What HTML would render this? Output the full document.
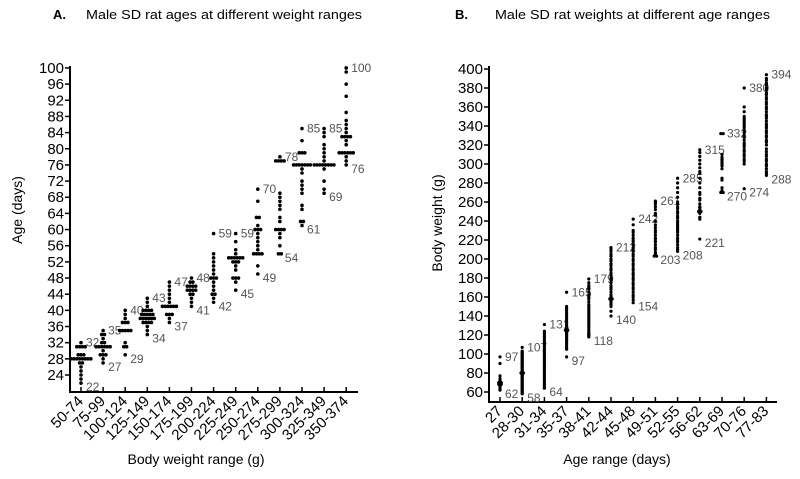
<!DOCTYPE html>
<html><head><meta charset="utf-8"><style>
html,body{margin:0;padding:0;background:#fff;}
svg{display:block;font-family:"Liberation Sans",Arial,sans-serif;}
</style></head><body>
<svg id="chart" width="800" height="479" viewBox="0 0 800 479" xmlns="http://www.w3.org/2000/svg">
<g>
<text x="53" y="19" font-size="13" font-weight="bold">A.</text>
<text x="86" y="19" font-size="13" textLength="276" lengthAdjust="spacingAndGlyphs">Male SD rat ages at different weight ranges</text>
</g>
<g>
<text x="455" y="19" font-size="13" font-weight="bold">B.</text>
<text x="495" y="19" font-size="13" textLength="275" lengthAdjust="spacingAndGlyphs">Male SD rat weights at different age ranges</text>
</g>
<g id="pa"></g>
<g id="pb"></g>
</svg>
<script>
const catsA=["50-74","75-99","100-124","125-149","150-174","175-199","200-224","225-249","250-274","275-299","300-324","325-349","350-374"];
const valsA=[
[22,23,24,25,26,27,27,28,28,28,28,28,28,28,28,29,29,29,31,31,31,31,32],
[27,28,29,29,29,30,31,31,31,31,31,31,32,32,33,34,34,35],
[29,31,31,32,35,35,35,35,35,37,37,37,38,39,40],
[34,35,36,37,37,37,37,38,38,38,38,38,38,39,39,39,39,39,40,40,40,40,41,42,43],
[37,38,39,39,39,41,41,41,41,41,41,42,43,44,45,46,47],
[41,42,43,44,44,45,45,45,45,46,46,46,46,47,47,48],
[42,43,44,44,45,46,47,48,48,48,49,50,51,52,53,54,59],
[45,47,48,48,48,50,51,52,52,52,53,53,53,53,53,53,54,55,57,59],
[49,51,54,54,54,54,55,56,57,58,59,60,60,60,61,63,63,67,70],
[54,54,56,58,59,60,60,60,60,62,63,65,66,67,68,69,77,77,77,77,78],
[61,62,62,65,66,69,70,71,72,74,75,76,76,76,76,76,76,76,79,79,79,82,85],
[69,70,72,75,76,76,76,76,76,76,76,76,77,78,79,80,81,83,84,85],
[76,77,78,79,79,79,79,79,79,81,82,83,83,83,83,84,85,86,87,89,93,96,99,100]];
const ticksA=[24,28,32,36,40,44,48,52,56,60,64,68,72,76,80,84,88,92,96,100];
const catsB=["27","28-30","31-34","35-37","38-41","42-44","45-48","49-51","52-55","56-62","63-69","70-76","77-83"];
const valsB=[
[62,63,64,65,66,67,68,68,69,69,70,70,71,72,74,77,90,97],
[58,59,60,61,62,63,64,65,66,67,68,69,70,71,72,73,74,75,76,77,78,79,80,80,81,82,83,84,85,86,87,88,89,90,91,92,93,94,95,96,97,98,99,100,101,102,103,107],
[64,65,66,68,70,72,74,76,78,80,82,84,86,88,90,92,94,96,98,100,102,104,106,108,110,112,114,116,118,120,122,124,131],
[97,105,106,108,110,112,114,115,116,118,119,120,121,122,123,124,125,125,126,127,128,129,130,132,134,136,138,140,142,144,146,148,150,165],
[118,119,120,121,122,124,126,128,130,132,134,136,138,140,142,144,146,148,150,152,155,158,160,162,165,168,170,172,175,179],
[140,145,150,152,154,156,158,158,160,162,165,168,170,172,175,178,180,183,185,188,190,193,195,198,200,203,205,208,210,212],
[154,157,160,162,165,168,170,173,175,178,180,183,185,188,190,193,195,198,200,203,205,208,210,212,215,218,220,222,225,228,230,236,242],
[203,203,204,205,207,210,212,215,218,220,222,225,228,230,233,236,240,246,248,252,255,258,260,261],
[208,210,212,215,218,220,222,225,228,230,232,234,236,238,240,243,245,248,250,253,255,258,260,265,270,275,280,285],
[221,242,244,248,250,250,252,254,255,258,262,264,268,270,275,280,285,290,292,296,300,304,308,312,315],
[270,270,271,272,275,283,285,295,298,300,302,304,305,307,310,332,332],
[274,300,303,305,308,310,313,315,318,320,322,325,328,330,333,335,338,340,342,344,346,348,350,355,360,380],
[288,290,292,295,298,300,303,305,308,310,313,316,320,323,325,328,330,333,335,338,340,342,345,348,350,352,355,358,360,363,365,368,370,373,375,378,380,383,385,388,390,394]];
const ticksB=[60,80,100,120,140,160,180,200,220,240,260,280,300,320,340,360,380,400];
const NS="http://www.w3.org/2000/svg";
function mk(tag,attrs,parent){const e=document.createElementNS(NS,tag);for(const k in attrs)e.setAttribute(k,attrs[k]);parent.appendChild(e);return e;}
function panel(g,o){
  const cats=o.cats,vals=o.vals,ticks=o.ticks;
  const yS=v=>o.y0-(v-o.v0)*o.ppu;
  const xS=i=>o.x0+o.dx*i;
  const ax=mk('path',{d:`M${o.ax} ${o.top} V${o.bottom} H${o.right}`,stroke:'#000','stroke-width':2,fill:'none'},g);
  
  
  ticks.forEach(t=>{
    const y=yS(t);
    const tl=mk('line',{x1:o.ax-5,x2:o.ax,y1:y,y2:y,stroke:'#000','stroke-width':1.5},g);
    
    
    const tx=mk('text',{x:o.ax-6,y:y+5,'font-size':15,'text-anchor':'end'},g);
    tx.textContent=t;
    
    
  });
  cats.forEach((c,i)=>{
    const x=xS(i);
    const tl=mk('line',{x1:x,x2:x,y1:o.bottom,y2:o.bottom-5,stroke:'#000','stroke-width':1.5},g);
    
    
    const tx=mk('text',{x:x+3,y:o.bottom+10,'font-size':15,'text-anchor':'end',transform:`rotate(-45 ${x+3} ${o.bottom+10})`},g);
    tx.textContent=c;
    
    
    const arr=vals[i];const cnt={};
    arr.forEach(v=>{cnt[v]=(cnt[v]||0)+1;});
    const seen={};
    arr.forEach(v=>{
      const n=cnt[v];const k=seen[v]||0;seen[v]=k+1;
      const off=(k-(n-1)/2)*o.sp;
      const d=mk('circle',{cx:x+off,cy:yS(v),r:o.r,fill:'#000'},g);
      
      
    });
    const mx=Math.max(...arr),mn=Math.min(...arr);
    const lt=mk('text',{x:x+5,y:yS(mx)+4,'font-size':12,fill:'#555'},g);
    lt.textContent=mx;
    
    
    const lb=mk('text',{x:x+5,y:yS(mn)+8,'font-size':12,fill:'#555'},g);
    lb.textContent=mn;
    
    
  });
  const yt=mk('text',{x:o.ytx,y:o.yty,'font-size':14,'text-anchor':'middle',transform:`rotate(-90 ${o.ytx} ${o.yty})`},g);
  yt.textContent=o.ytitle;
  
  
  const xt=mk('text',{x:o.xtx,y:o.xty,'font-size':14,'text-anchor':'middle'},g);
  xt.textContent=o.xtitle;
  
  
}
panel(document.getElementById('pa'),{cats:catsA,vals:valsA,ticks:ticksA,v0:24,y0:375,ppu:4.04,x0:81,dx:22.1,ax:70,top:66,bottom:392,right:358,sp:2.8,r:1.8,ytitle:'Age (days)',ytx:22,yty:210,xtitle:'Body weight range (g)',xtx:196,xty:464});
panel(document.getElementById('pb'),{cats:catsB,vals:valsB,ticks:ticksB,v0:60,y0:392,ppu:0.95,x0:500,dx:22.2,ax:489,top:66,bottom:402,right:777,sp:2.4,r:1.6,ytitle:'Body weight (g)',ytx:442,yty:223,xtitle:'Age range (days)',xtx:617,xty:464});
</script>
</body></html>
